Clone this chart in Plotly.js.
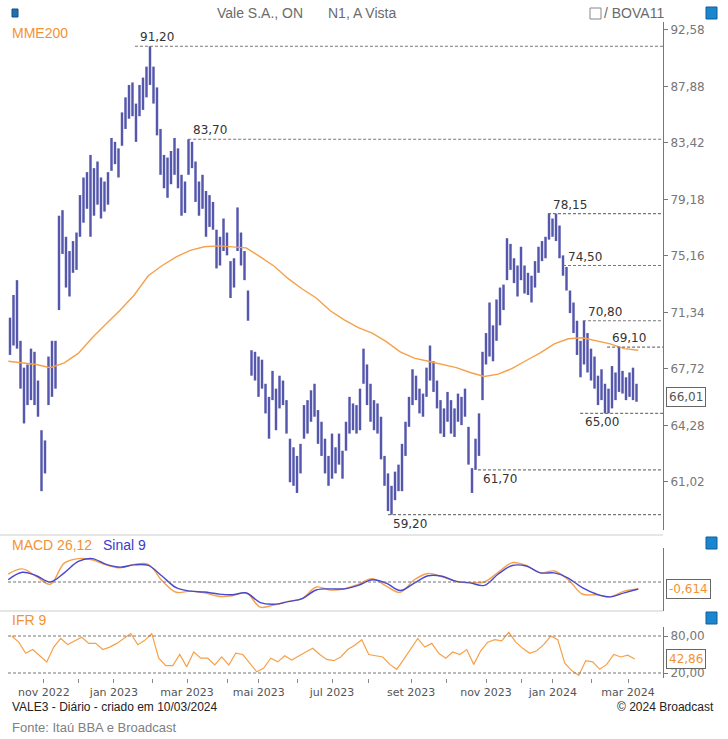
<!DOCTYPE html>
<html>
<head>
<meta charset="utf-8">
<script src="https://cdn.plot.ly/plotly-3.0.1.min.js"></script>
<style>
  html, body { margin: 0; padding: 0; background: #fff; }
  #chart { width: 728px; height: 739px; }
</style>
</head>
<body>
<div id="chart"></div>
<script>
// VALE3 diário: cada barra cobre dois pregões (índice de barra no eixo x)
const low = [68.6, 69.2, 69.0, 66.5, 64.4, 65.5, 65.8, 65.5, 64.8, 60.5,
  61.5, 65.5, 66.0, 66.5, 71.5, 75.3, 73.0, 72.4, 74.0, 74.2,
  76.5, 77.5, 78.5, 76.5, 78.0, 78.8, 77.8, 78.3, 78.8, 81.3,
  81.8, 80.8, 83.2, 84.5, 85.3, 85.5, 83.5, 85.5, 86.0, 87.0,
  88.0, 86.5, 84.0, 81.0, 80.0, 79.3, 80.3, 81.0, 80.0, 78.0,
  78.2, 81.0, 81.5, 79.0, 78.0, 78.5, 76.5, 77.2, 77.0, 74.3,
  74.5, 75.5, 75.2, 72.3, 73.0, 75.5, 74.5, 73.5, 70.8, 67.3,
  67.0, 66.0, 66.5, 65.0, 63.5, 65.8, 64.0, 65.3, 65.5, 63.8,
  61.0, 60.8, 60.4, 61.5, 63.5, 63.8, 64.5, 64.8, 63.2, 62.5,
  61.5, 60.8, 61.2, 61.5, 62.0, 61.2, 62.8, 63.8, 64.0, 63.8,
  64.0, 66.8, 65.5, 64.5, 64.0, 63.8, 62.3, 60.8, 59.4, 59.2,
  60.0, 60.5, 60.5, 62.5, 64.2, 65.5, 65.8, 65.0, 64.8, 66.0,
  67.0, 66.3, 65.3, 63.8, 63.6, 64.5, 63.8, 63.6, 64.5, 64.3,
  64.8, 62.0, 60.4, 61.7, 62.5, 65.8, 68.0, 68.5, 68.2, 69.5,
  70.5, 71.5, 73.5, 74.2, 73.3, 72.4, 73.5, 72.6, 72.5, 72.0,
  73.0, 74.0, 74.8, 75.0, 76.3, 76.5, 76.2, 75.0, 73.8, 72.8,
  71.3, 70.0, 68.6, 67.2, 68.0, 67.5, 67.0, 66.5, 65.5, 65.8,
  65.0, 65.0, 65.3, 65.8, 66.3, 66.2, 65.8, 66.0, 65.8, 65.7];
const high = [71.0, 72.5, 73.5, 69.5, 67.8, 68.0, 69.0, 68.8, 67.0, 64.0,
  63.4, 68.5, 69.5, 69.5, 78.0, 78.4, 76.5, 75.5, 76.2, 76.8,
  79.5, 80.8, 81.2, 82.5, 81.5, 82.0, 80.8, 80.5, 81.2, 83.8,
  83.5, 83.0, 85.8, 87.0, 88.0, 88.2, 86.5, 88.0, 88.6, 89.5,
  91.2, 89.5, 87.8, 84.5, 82.5, 82.3, 82.8, 83.8, 83.0, 81.0,
  80.5, 83.7, 83.5, 82.0, 80.5, 81.0, 79.8, 79.5, 79.0, 77.0,
  76.5, 77.8, 76.8, 74.8, 75.0, 78.6, 76.8, 75.5, 72.8, 68.9,
  68.8, 68.5, 68.3, 66.8, 66.0, 67.6, 66.5, 67.3, 67.0, 65.8,
  63.5, 63.0, 62.5, 63.2, 65.5, 65.8, 66.4, 66.8, 65.2, 64.5,
  63.5, 62.5, 63.8, 63.0, 63.8, 62.8, 64.5, 66.0, 65.6, 65.5,
  66.5, 69.0, 68.0, 66.8, 65.8, 65.6, 64.8, 62.5, 61.5, 60.8,
  61.6, 62.0, 63.2, 64.5, 66.0, 67.7, 67.3, 66.5, 66.2, 67.8,
  69.2, 68.2, 67.0, 65.8, 65.3, 66.3, 65.8, 65.3, 66.2, 66.0,
  66.5, 64.2, 61.8, 63.5, 65.0, 68.8, 70.0, 72.0, 70.5, 72.2,
  73.0, 73.2, 76.4, 76.0, 75.0, 74.5, 75.8, 74.5, 74.0, 73.8,
  74.8, 75.8, 76.2, 76.5, 78.15, 77.8, 78.15, 77.3, 75.2, 74.4,
  72.8, 72.0, 70.8, 69.5, 70.8, 70.0, 69.0, 68.5, 67.3, 67.7,
  66.8, 66.5, 67.9, 67.5, 69.1, 67.6, 67.2, 67.5, 67.8, 66.8];

// MME200, MACD e sinal: um ponto a cada 4 barras
const mme200 = [68.2, 68.1, 68.0, 67.8, 68.1, 68.7, 69.7, 70.6, 71.5, 72.5,
  73.8, 74.5, 75.1, 75.55, 75.8, 75.86, 75.8, 75.72, 75.1, 74.45,
  73.6, 72.9, 72.3, 71.45, 70.85, 70.35, 70.0, 69.45, 68.8, 68.4,
  68.2, 68.0, 67.8, 67.5, 67.25, 67.4, 67.75, 68.25, 68.73, 69.3,
  69.63, 69.7, 69.5, 69.3, 69.0, 68.9];
const macd = [0.7, 1.15, 0.5, -0.2, 1.65, 2.05, 1.95, 1.5, 1.25, 1.55,
  1.55, 0.1, -0.9, -0.8, -0.95, -1.25, -1.2, -0.95, -2.2, -2.0,
  -1.7, -1.45, -0.44, -0.7, -0.6, -0.2, 0.3, -0.35, -0.9, 0.2,
  0.75, 0.45, 0.05, -0.05, 0.0, 0.85, 1.7, 1.45, 0.8, 0.96,
  0.2, -1.05, -1.12, -1.3, -0.8, -0.614];
const sinal = [0.2, 0.85, 0.55, 0.0, 0.8, 1.8, 2.05, 1.55, 1.3, 1.5,
  1.45, 0.5, -0.5, -0.8, -0.88, -1.05, -1.12, -0.96, -1.8, -1.95,
  -1.72, -1.45, -0.7, -0.6, -0.6, -0.3, 0.2, -0.1, -0.75, -0.1,
  0.55, 0.5, 0.05, -0.08, -0.3, 0.7, 1.45, 1.4, 0.8, 0.8,
  0.35, -0.5, -1.05, -1.3, -0.95, -0.614];

// IFR 9: um ponto a cada 2 barras
const ifr = [80, 70, 52, 58, 48, 38, 62, 76, 66, 72,
  78, 68, 68, 58, 62, 68, 76, 84, 66, 73,
  84, 44, 32, 32, 50, 30, 54, 44, 44, 33,
  46, 33, 52, 50, 36, 22, 28, 44, 38, 48,
  41, 48, 54, 60, 50, 42, 40, 46, 58, 65,
  74, 50, 48, 46, 34, 26, 42, 60, 76, 62,
  68, 52, 44, 54, 50, 58, 34, 56, 70, 74,
  72, 86, 70, 60, 52, 56, 66, 80, 74, 36,
  24, 16, 40, 38, 26, 34, 50, 46, 49, 42.86];

// níveis marcados (suportes / resistências)
const levels = [91.20, 83.70, 78.15, 74.50, 70.80, 69.10, 65.00, 61.70, 59.20];
const levelFrom = [35.7, 50.9, 153.7, 158, 163.7, 170.6, 162.9, 133.7, 108];
const levelBelow = [false, false, false, false, false, false, true, true, true];

const monthTicks = [9.7, 29.7, 50.6, 71.1, 92.0, 114.6, 136.0, 155.1, 176.6];
const monthLabels = ['nov 2022', 'jan 2023', 'mar 2023', 'mai 2023', 'jul 2023',
  'set 2023', 'nov 2023', 'jan 2024', 'mar 2024'];
const minorTicks = [19.7, 40.7, 62.0, 82.1, 102.5, 124.6, 146.0, 166.1];
const priceTicks = [92.58, 87.88, 83.42, 79.18, 75.16, 71.34, 67.72, 64.28, 61.02];
const lastPrice = 66.01;

const br = v => v.toFixed(2).replace('.', ',');
const W = 728, H = 739;
const px = x => x / W;
const py = y => 1 - y / H;
const xRange = [-0.571, 186.57];

const BLUE = '#5557ad';
const ORANGE = '#f7a04a';
const SANS = 'Liberation Sans, Arial, sans-serif';
const DJV = 'DejaVu Sans, Verdana, sans-serif';

const traces = [
  {
    type: 'bar', x0: 0, dx: 1,
    base: low, y: high.map((h, i) => h - low[i]),
    width: 0.7, marker: { color: BLUE, line: { width: 0 } },
    yaxis: 'y', hoverinfo: 'skip'
  },
  {
    type: 'scatter', mode: 'lines', x0: -0.5, dx: 4, y: mme200,
    line: { color: ORANGE, width: 1.4 }, yaxis: 'y'
  },
  {
    type: 'scatter', mode: 'lines', x0: -0.5, dx: 4, y: macd,
    line: { color: ORANGE, width: 1.4, shape: 'spline' }, yaxis: 'y2'
  },
  {
    type: 'scatter', mode: 'lines', x0: -0.5, dx: 4, y: sinal,
    line: { color: '#4848cf', width: 1.4, shape: 'spline' }, yaxis: 'y2'
  },
  {
    type: 'scatter', mode: 'lines', x0: 0.5, dx: 2, y: ifr,
    line: { color: ORANGE, width: 1.2 }, yaxis: 'y3'
  }
];

const dashed = { color: '#777', width: 1.2, dash: '3px,2px' };

const shapes = [
  // separadores dos painéis
  { type: 'line', xref: 'paper', yref: 'paper', x0: 0, x1: px(663), y0: py(535), y1: py(535), line: { color: '#e6e6e6', width: 2 } },
  { type: 'line', xref: 'paper', yref: 'paper', x0: 0, x1: px(663), y0: py(611), y1: py(611), line: { color: '#e6e6e6', width: 2 } },
  // linhas de referência dos indicadores
  { type: 'line', xref: 'x domain', yref: 'y2', x0: 0, x1: 1, y0: 0, y1: 0, line: dashed },
  { type: 'line', xref: 'x domain', yref: 'y3', x0: 0, x1: 1, y0: 80, y1: 80, line: dashed },
  { type: 'line', xref: 'x domain', yref: 'y3', x0: 0, x1: 1, y0: 20, y1: 20, line: dashed },
  // caixinha "/ BOVA11" e ícones
  { type: 'rect', xref: 'paper', yref: 'paper', x0: px(590), x1: px(601), y0: py(19), y1: py(8), line: { color: '#888', width: 1 } },
  { type: 'rect', xref: 'paper', yref: 'paper', x0: px(706), x1: px(717), y0: py(19), y1: py(7), fillcolor: '#1a86d0', line: { color: '#0f5f99', width: 1 } },
  { type: 'rect', xref: 'paper', yref: 'paper', x0: px(706), x1: px(717), y0: py(549), y1: py(537), fillcolor: '#1a86d0', line: { color: '#0f5f99', width: 1 } },
  { type: 'rect', xref: 'paper', yref: 'paper', x0: px(706), x1: px(717), y0: py(624), y1: py(612), fillcolor: '#1a86d0', line: { color: '#0f5f99', width: 1 } },
  { type: 'rect', xref: 'paper', yref: 'paper', x0: px(12), x1: px(18), y0: py(17), y1: py(9), fillcolor: '#1f6fb5', line: { color: '#164f80', width: 1 } }
];

const annotations = [];
levels.forEach((lv, i) => {
  shapes.push({
    type: 'line', xref: 'x', yref: 'y', x0: levelFrom[i], x1: xRange[1],
    y0: lv, y1: lv, line: dashed
  });
  annotations.push({
    xref: 'x', yref: 'y', x: levelFrom[i], y: Math.log10(lv),
    text: br(lv), showarrow: false, xanchor: 'left',
    yanchor: levelBelow[i] ? 'top' : 'bottom', xshift: 3,
    font: { family: DJV, size: 12, color: '#333' }
  });
});

const txt = (text, x, y, size, color, extra) => Object.assign({
  xref: 'paper', yref: 'paper', x: px(x), y: py(y), text: text, showarrow: false,
  xanchor: 'left', yanchor: 'middle', font: { family: SANS, size: size, color: color }
}, extra || {});

annotations.push(
  txt('Vale S.A., ON', 215, 13, 14, '#6b6b6b'),
  txt('N1, A Vista', 326, 13, 14, '#6b6b6b'),
  txt('/ BOVA11', 602, 13, 14, '#6b6b6b'),
  txt('MME200', 10, 33, 14, '#f39233'),
  txt('MACD 26,12', 10, 545, 14, '#f39233'),
  txt('Sinal 9', 101, 545, 14, '#3b3bcc'),
  txt('IFR 9', 10, 620, 14, '#f39233'),
  txt('VALE3 - Diário - criado em 10/03/2024', 10, 707, 12, '#222'),
  txt('© 2024 Broadcast', 716, 707, 12, '#222', { xanchor: 'right' }),
  txt('Fonte: Itaú BBA e Broadcast', 10, 727, 13, '#808080'),
  // valores atuais nas escalas
  {
    xref: 'paper', yref: 'y', x: px(666), y: Math.log10(lastPrice), text: br(lastPrice),
    showarrow: false, xanchor: 'left', yanchor: 'middle',
    bordercolor: '#666', borderwidth: 1, borderpad: 2, bgcolor: '#fff',
    font: { family: DJV, size: 12, color: '#555' }
  },
  {
    xref: 'paper', yref: 'y2', x: px(666), y: macd[macd.length - 1],
    text: macd[macd.length - 1].toFixed(3).replace('.', ','),
    showarrow: false, xanchor: 'left', yanchor: 'middle',
    bordercolor: '#666', borderwidth: 1, borderpad: 2, bgcolor: '#fff',
    font: { family: DJV, size: 12, color: '#f39233' }
  },
  {
    xref: 'paper', yref: 'y3', x: px(666), y: ifr[ifr.length - 1], text: br(ifr[ifr.length - 1]),
    showarrow: false, xanchor: 'left', yanchor: 'middle',
    bordercolor: '#666', borderwidth: 1, borderpad: 2, bgcolor: '#fff',
    font: { family: DJV, size: 12, color: '#f39233' }
  }
);

const layout = {
  width: W, height: H,
  margin: { l: 0, r: 0, t: 0, b: 0 },
  paper_bgcolor: '#fff', plot_bgcolor: '#fff',
  showlegend: false, hovermode: false,
  xaxis: {
    domain: [px(8), px(663)], range: xRange, anchor: 'y3',
    tickmode: 'array', tickvals: monthTicks, ticktext: monthLabels,
    ticks: 'outside', ticklen: 4, tickcolor: '#888',
    showgrid: false, zeroline: false, showline: false,
    tickfont: { family: DJV, size: 11, color: '#555' },
    minor: { tickmode: 'array', tickvals: minorTicks, ticks: 'outside', ticklen: 4, tickcolor: '#888', showgrid: false }
  },
  yaxis: {
    domain: [py(530), py(22)], type: 'log', range: [1.7662, 1.9697],
    side: 'right', anchor: 'x',
    tickmode: 'array', tickvals: priceTicks, ticktext: priceTicks.map(br),
    ticks: 'outside', ticklen: 4, tickcolor: '#777',
    showline: true, linecolor: '#777', linewidth: 1,
    showgrid: false, zeroline: false,
    tickfont: { family: DJV, size: 12, color: '#777' }
  },
  yaxis2: {
    domain: [py(611), py(548)], range: [-2.54, 2.98],
    side: 'right', anchor: 'x',
    showline: true, linecolor: '#777', linewidth: 1,
    showticklabels: false, ticks: '', showgrid: false, zeroline: false
  },
  yaxis3: {
    domain: [py(678), py(627)], range: [11.9, 94.6],
    side: 'right', anchor: 'x',
    tickmode: 'array', tickvals: [80, 20], ticktext: ['80,00', '20,00'],
    ticks: 'outside', ticklen: 4, tickcolor: '#777',
    showline: true, linecolor: '#777', linewidth: 1,
    showgrid: false, zeroline: false,
    tickfont: { family: DJV, size: 12, color: '#777' }
  },
  shapes: shapes,
  annotations: annotations
};

Plotly.newPlot('chart', traces, layout, { staticPlot: true, displayModeBar: false });
</script>
</body>
</html>
